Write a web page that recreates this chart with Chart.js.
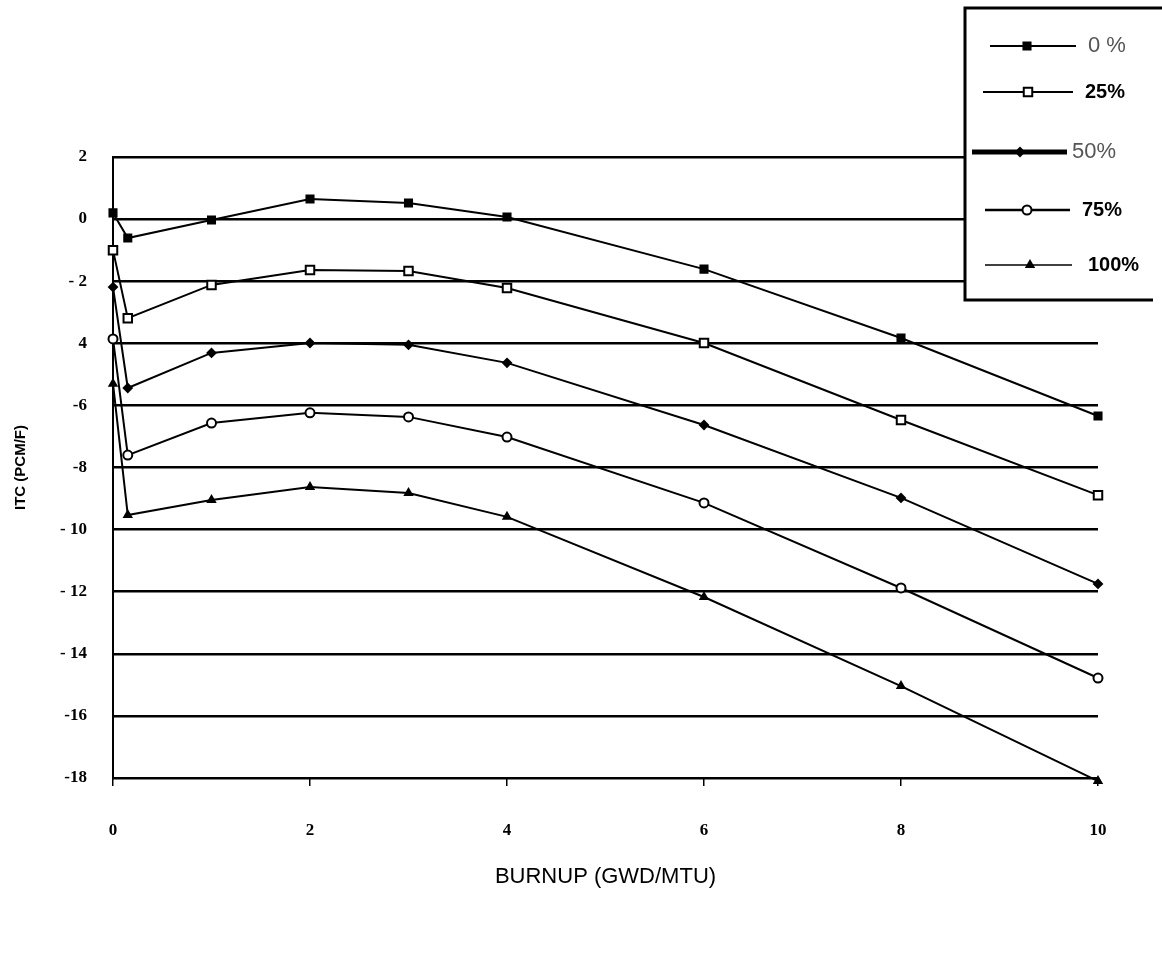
<!DOCTYPE html>
<html>
<head>
<meta charset="utf-8">
<script src="https://cdn.jsdelivr.net/npm/chart.js@4/dist/chart.umd.min.js"></script>
<style>
  body { margin: 0; background: #fff; }
  #c { display: block; }
</style>
</head>
<body>
<canvas id="c" width="1162" height="975"></canvas>
<script>
// burnup (GWD/MTU)
var burnup = [0, 0.15, 1, 2, 3, 4, 6, 8, 10];
// ITC (pcm/F) per series
var itc0   = [0.2, -0.61, -0.03, 0.65, 0.52, 0.07, -1.61, -3.83, -6.34];
var itc25  = [-1.0, -3.19, -2.12, -1.64, -1.67, -2.22, -3.99, -6.47, -8.89];
var itc50  = [-2.19, -5.44, -4.31, -3.99, -4.05, -4.63, -6.63, -8.98, -11.75];
var itc75  = [-3.86, -7.6, -6.57, -6.24, -6.37, -7.02, -9.14, -11.88, -14.78];
var itc100 = [-5.3, -9.53, -9.05, -8.63, -8.82, -9.59, -12.17, -15.04, -18.1];

var seriesLabels = ["0 %", "25%", "50%", "75%", "100%"];
var yTickValues = [2, 0, -2, -4, -6, -8, -10, -12, -14, -16, -18];
var yTickText = ["2", "0", "- 2", "4", "-6", "-8", "- 10", "- 12", "- 14", "-16", "-18"];
var xTickText = ["0", "2", "4", "6", "8", "10"];

function pts(ys) {
  return burnup.map(function (x, i) { return { x: x, y: ys[i] }; });
}

var tickFont = { family: "Liberation Serif", weight: "bold", size: 17 };

// legend box drawn on the canvas, top right
var boxLegend = {
  id: "boxLegend",
  afterDraw: function (chart) {
    var ctx = chart.ctx;
    var rows = [
      { y: 46, x0: 990, x1: 1076, mx: 1027, text: 1088, font: "22px 'Liberation Sans'", color: "#555", lw: 2 },
      { y: 92, x0: 983, x1: 1073, mx: 1028, text: 1085, font: "bold 20px 'Liberation Sans'", color: "#000", lw: 2 },
      { y: 152, x0: 972, x1: 1067, mx: 1020, text: 1072, font: "22px 'Liberation Sans'", color: "#555", lw: 5 },
      { y: 210, x0: 985, x1: 1070, mx: 1027, text: 1082, font: "bold 20px 'Liberation Sans'", color: "#000", lw: 2.5 },
      { y: 265, x0: 985, x1: 1072, mx: 1030, text: 1088, font: "bold 20px 'Liberation Sans'", color: "#000", lw: 1.5 }
    ];
    ctx.save();
    ctx.fillStyle = "#fff";
    ctx.fillRect(965, 8, 197, 293);
    ctx.strokeStyle = "#000";
    ctx.lineWidth = 3;
    ctx.beginPath();
    ctx.moveTo(1162, 8);
    ctx.lineTo(965, 8);
    ctx.lineTo(965, 300);
    ctx.lineTo(1153, 300);
    ctx.stroke();
    chart.data.datasets.forEach(function (ds, i) {
      var r = rows[i];
      ctx.strokeStyle = "#000";
      ctx.lineWidth = r.lw;
      ctx.beginPath();
      ctx.moveTo(r.x0, r.y);
      ctx.lineTo(r.x1, r.y);
      ctx.stroke();
      ctx.fillStyle = ds.pointBackgroundColor;
      ctx.strokeStyle = "#000";
      ctx.lineWidth = ds.pointBorderWidth;
      Chart.helpers.drawPoint(ctx, {
        pointStyle: ds.pointStyle,
        radius: ds.pointRadius,
        borderWidth: ds.pointBorderWidth,
        rotation: 0
      }, r.mx, r.y);
      ctx.fillStyle = r.color;
      ctx.font = r.font;
      ctx.textBaseline = "middle";
      ctx.textAlign = "left";
      ctx.fillText(ds.label, r.text, r.y);
    });
    ctx.restore();
  }
};

function ds(label, ys, style, radius, fill, width) {
  return {
    label: label,
    data: pts(ys),
    borderColor: "#000",
    borderWidth: width,
    pointStyle: style,
    pointRadius: radius,
    pointBackgroundColor: fill,
    pointBorderColor: "#000",
    pointBorderWidth: 2,
    tension: 0,
    clip: 10
  };
}

new Chart(document.getElementById("c"), {
  type: "line",
  data: {
    datasets: [
      ds(seriesLabels[0], itc0, "rect", 5, "#000", 2),
      ds(seriesLabels[1], itc25, "rect", 6, "#fff", 2),
      ds(seriesLabels[2], itc50, "rectRot", 4, "#000", 2),
      ds(seriesLabels[3], itc75, "circle", 4.5, "#fff", 2),
      ds(seriesLabels[4], itc100, "triangle", 4, "#000", 2)
    ]
  },
  options: {
    responsive: false,
    animation: false,
    layout: { padding: { top: 157, right: 64, bottom: 0, left: 0 } },
    plugins: {
      legend: { display: false },
      tooltip: { enabled: false }
    },
    scales: {
      x: {
        type: "linear",
        min: 0,
        max: 10,
        afterFit: function (s) { s.height = 197; },
        afterBuildTicks: function (s) {
          s.ticks = xTickText.map(function (t) { return { value: Number(t) }; });
        },
        ticks: {
          color: "#000",
          font: tickFont,
          padding: 34,
          maxRotation: 0,
          callback: function (v, i) { return xTickText[i]; }
        },
        grid: { drawOnChartArea: false, drawTicks: true, tickLength: 8, color: "#000", lineWidth: 1.5 },
        border: { display: true, color: "#000", width: 2 },
        title: {
          display: true,
          text: "BURNUP (GWD/MTU)",
          color: "#000",
          font: { family: "Liberation Sans", size: 22 },
          padding: { top: 0, bottom: 85 }
        }
      },
      y: {
        type: "linear",
        min: -18,
        max: 2,
        afterFit: function (s) { s.width = 113; },
        afterBuildTicks: function (s) {
          s.ticks = yTickValues.map(function (v) { return { value: v }; });
        },
        ticks: {
          color: "#000",
          font: tickFont,
          padding: 26,
          callback: function (v, i) { return yTickText[i]; }
        },
        grid: { color: "#000", lineWidth: 2.5, drawTicks: false },
        border: { display: true, color: "#000", width: 2 },
        title: {
          display: true,
          text: "ITC (PCM/F)",
          color: "#000",
          font: { family: "Liberation Sans", weight: "bold", size: 15 },
          padding: { top: 12, bottom: 0 }
        }
      }
    }
  },
  plugins: [boxLegend]
});
</script>
</body>
</html>
